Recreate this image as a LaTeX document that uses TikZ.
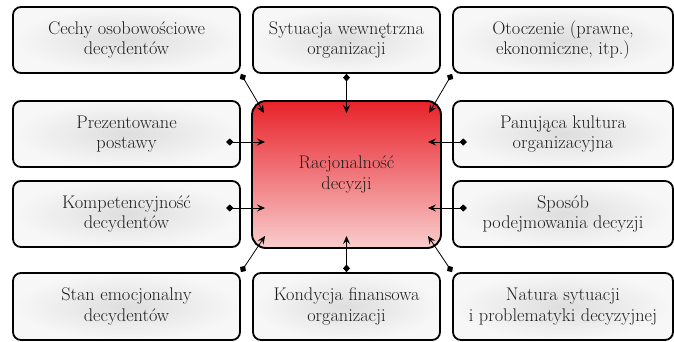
\documentclass[tikz,border=0pt]{standalone}
\usepackage{fontspec}
\usetikzlibrary{arrows.meta,calc}
\definecolor{txt}{HTML}{1E1E1E}
\definecolor{topred}{HTML}{E8222A}
\definecolor{botpink}{HTML}{F9CDCD}
\tikzset{
  fbox/.style={draw=black, line width=1.8pt, rounded corners=8pt,
    inner color=black!13, outer color=black!3,
    align=center, text=txt, font=\fontsize{18.3}{20.5}\selectfont,
    inner sep=0pt},
  cbox/.style={draw=black, line width=1.9pt, rounded corners=14pt,
    top color=topred, bottom color=botpink,
    align=center, text=txt, font=\fontsize{18.3}{20.5}\selectfont,
    inner sep=0pt, minimum width=189pt, minimum height=147pt},
  link/.style={line width=0.8pt, {Diamond[length=7.5pt,width=7pt]}-{Stealth[length=8pt,width=7pt,inset=3pt]}},
}
\begin{document}
\begin{tikzpicture}[x=1pt,y=-1pt]
\useasboundingbox (0,0) rectangle (674,342);
\node[fbox, minimum width=227pt, minimum height=66pt] (a1) at (126.5,40) {Cechy osobowościowe\\decydentów};
\node[fbox, minimum width=187pt, minimum height=66pt] (a2) at (346.5,40) {Sytuacja wewnętrzna\\organizacji};
\node[fbox, minimum width=220pt, minimum height=66pt] (a3) at (563,40) {Otoczenie (prawne,\\ekonomiczne, itp.)};
\node[fbox, minimum width=227pt, minimum height=66pt] (b1) at (126.5,134) {Prezentowane\\postawy};
\node[fbox, minimum width=220pt, minimum height=66pt] (b3) at (563,134) {Panująca kultura\\organizacyjna};
\node[fbox, minimum width=227pt, minimum height=66pt] (c1) at (126.5,214) {Kompetencyjność\\decydentów};
\node[fbox, minimum width=220pt, minimum height=66pt] (c3) at (563,214) {Sposób\\podejmowania decyzji};
\node[fbox, minimum width=227pt, minimum height=67pt] (d1) at (126.5,306.5) {Stan emocjonalny\\decydentów};
\node[fbox, minimum width=187pt, minimum height=67pt] (d2) at (346.5,306.5) {Kondycja finansowa\\organizacji};
\node[fbox, minimum width=220pt, minimum height=67pt] (d3) at (563,306.5) {Natura sytuacji\\i problematyki decyzyjnej};
\node[cbox] (c) at (346.5,174.5) {Racjonalność\\decyzji};
\coordinate (tl) at (264,113);
\coordinate (tm) at (346.5,113);
\coordinate (tr) at (429,113);
\coordinate (bl) at (265,236);
\coordinate (bm) at (346.5,236);
\coordinate (br) at (428,236);
\coordinate (b1s) at (226,142);
\coordinate (b1e) at (265,142);
\coordinate (c1s) at (226,208);
\coordinate (c1e) at (265,208);
\coordinate (b3s) at (467,142);
\coordinate (b3e) at (428,142);
\coordinate (c3s) at (467,208);
\coordinate (c3e) at (428,208);
\draw[link] (a1.south east) -- (tl);
\draw[link] (a2.south) -- (tm);
\draw[link] (a3.south west) -- (tr);
\draw[link] (d1.north east) -- (bl);
\draw[link] (d2.north) -- (bm);
\draw[link] (d3.north west) -- (br);
\draw[link] (b1s) -- (b1e);
\draw[link] (c1s) -- (c1e);
\draw[link] (b3s) -- (b3e);
\draw[link] (c3s) -- (c3e);
\end{tikzpicture}
\end{document}
